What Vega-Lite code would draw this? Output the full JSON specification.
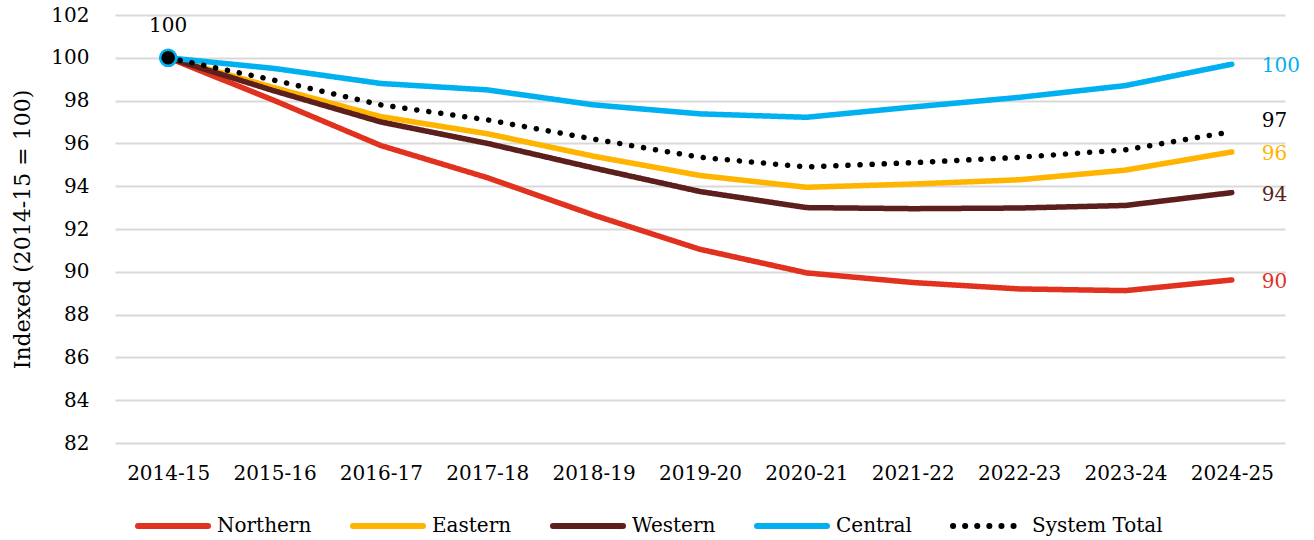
{
  "$schema": "https://vega.github.io/schema/vega-lite/v6.json",
  "width": 1170,
  "height": 428,
  "autosize": "none",
  "padding": {"left": 115, "top": 15, "right": 29, "bottom": 97},
  "background": "white",
  "config": {
    "font": "DejaVu Serif",
    "view": {"stroke": null},
    "axis": {"labelFont": "DejaVu Serif", "titleFont": "DejaVu Serif", "labelColor": "#000", "titleColor": "#000"}
  },
  "data": {
    "values": [
      {"year": "2014-15", "series": "Northern", "value": 100},
      {"year": "2015-16", "series": "Northern", "value": 98.0},
      {"year": "2016-17", "series": "Northern", "value": 95.9},
      {"year": "2017-18", "series": "Northern", "value": 94.4},
      {"year": "2018-19", "series": "Northern", "value": 92.65},
      {"year": "2019-20", "series": "Northern", "value": 91.05},
      {"year": "2020-21", "series": "Northern", "value": 89.95},
      {"year": "2021-22", "series": "Northern", "value": 89.5},
      {"year": "2022-23", "series": "Northern", "value": 89.2},
      {"year": "2023-24", "series": "Northern", "value": 89.12},
      {"year": "2024-25", "series": "Northern", "value": 89.62},
      {"year": "2014-15", "series": "Eastern", "value": 100},
      {"year": "2015-16", "series": "Eastern", "value": 98.6},
      {"year": "2016-17", "series": "Eastern", "value": 97.25},
      {"year": "2017-18", "series": "Eastern", "value": 96.45},
      {"year": "2018-19", "series": "Eastern", "value": 95.4},
      {"year": "2019-20", "series": "Eastern", "value": 94.5},
      {"year": "2020-21", "series": "Eastern", "value": 93.95},
      {"year": "2021-22", "series": "Eastern", "value": 94.1},
      {"year": "2022-23", "series": "Eastern", "value": 94.3},
      {"year": "2023-24", "series": "Eastern", "value": 94.75},
      {"year": "2024-25", "series": "Eastern", "value": 95.6},
      {"year": "2014-15", "series": "Western", "value": 100},
      {"year": "2015-16", "series": "Western", "value": 98.45},
      {"year": "2016-17", "series": "Western", "value": 97.0},
      {"year": "2017-18", "series": "Western", "value": 96.0},
      {"year": "2018-19", "series": "Western", "value": 94.85},
      {"year": "2019-20", "series": "Western", "value": 93.75},
      {"year": "2020-21", "series": "Western", "value": 93.0},
      {"year": "2021-22", "series": "Western", "value": 92.95},
      {"year": "2022-23", "series": "Western", "value": 92.98},
      {"year": "2023-24", "series": "Western", "value": 93.1},
      {"year": "2024-25", "series": "Western", "value": 93.7},
      {"year": "2014-15", "series": "Central", "value": 100},
      {"year": "2015-16", "series": "Central", "value": 99.5},
      {"year": "2016-17", "series": "Central", "value": 98.8},
      {"year": "2017-18", "series": "Central", "value": 98.5},
      {"year": "2018-19", "series": "Central", "value": 97.8},
      {"year": "2019-20", "series": "Central", "value": 97.38},
      {"year": "2020-21", "series": "Central", "value": 97.22},
      {"year": "2021-22", "series": "Central", "value": 97.7},
      {"year": "2022-23", "series": "Central", "value": 98.15},
      {"year": "2023-24", "series": "Central", "value": 98.7},
      {"year": "2024-25", "series": "Central", "value": 99.7},
      {"year": "2014-15", "series": "System Total", "value": 100},
      {"year": "2015-16", "series": "System Total", "value": 98.95},
      {"year": "2016-17", "series": "System Total", "value": 97.8},
      {"year": "2017-18", "series": "System Total", "value": 97.1},
      {"year": "2018-19", "series": "System Total", "value": 96.2},
      {"year": "2019-20", "series": "System Total", "value": 95.35},
      {"year": "2020-21", "series": "System Total", "value": 94.9},
      {"year": "2021-22", "series": "System Total", "value": 95.1},
      {"year": "2022-23", "series": "System Total", "value": 95.35},
      {"year": "2023-24", "series": "System Total", "value": 95.7},
      {"year": "2024-25", "series": "System Total", "value": 96.55}
    ]
  },
  "encoding": {
    "x": {
      "field": "year", "type": "ordinal",
      "scale": {"type": "point", "padding": 0.5},
      "axis": {"title": null, "labelAngle": 0, "labelFontSize": 20, "labelPadding": 20, "ticks": false, "domain": false, "grid": false}
    },
    "y": {
      "field": "value", "type": "quantitative",
      "scale": {"domain": [82, 102], "nice": false, "zero": false},
      "axis": {
        "title": "Indexed (2014-15 = 100)", "titleFontSize": 22, "titleFontWeight": "normal",
        "titleX": -93, "titleY": 214, "titleAngle": -90, "titleAlign": "center", "titleBaseline": "middle",
        "values": [82, 84, 86, 88, 90, 92, 94, 96, 98, 100, 102],
        "labelFontSize": 20, "labelPadding": 26, "ticks": false, "domain": false,
        "gridColor": "#D9D9D9", "gridWidth": 2
      }
    }
  },
  "layer": [
    {
      "mark": {"type": "line", "strokeWidth": 5.5, "strokeCap": "round", "strokeJoin": "round"},
      "encoding": {
        "color": {
          "field": "series", "type": "nominal",
          "scale": {"domain": ["Northern", "Eastern", "Western", "Central", "System Total"], "range": ["#E1311F", "#FFB400", "#5C1F1C", "#00B0F0", "#000000"]},
          "legend": {
            "title": null, "orient": "none", "direction": "horizontal", "columns": 5,
            "legendX": 20, "legendY": 473,
            "symbolType": "stroke", "symbolSize": 4900, "symbolStrokeWidth": 6,
            "labelFont": "DejaVu Serif", "labelFontSize": 20, "labelColor": "#000", "labelOffset": 6,
            "columnPadding": 29, "labelLimit": 300,
            "encode": {"symbols": {"update": {"strokeCap": {"value": "round"}}}}
          }
        },
        "strokeDash": {
          "field": "series", "type": "nominal",
          "scale": {"domain": ["Northern", "Eastern", "Western", "Central", "System Total"], "range": [[1, 0], [1, 0], [1, 0], [1, 0], [0.1, 12]]},
          "legend": null
        },
        "order": {"field": "series"}
      }
    },
    {
      "transform": [{"filter": "datum.year == '2014-15' && datum.series == 'System Total'"}],
      "mark": {"type": "point", "filled": true, "size": 260, "fill": "#000", "stroke": "#00B0F0", "strokeWidth": 2.5, "opacity": 1}
    },
    {
      "transform": [{"filter": "datum.year == '2014-15' && datum.series == 'System Total'"}],
      "mark": {"type": "text", "dy": -32, "fontSize": 20, "color": "#000"},
      "encoding": {"text": {"field": "value", "type": "quantitative", "format": ".0f"}}
    },
    {
      "transform": [{"filter": "datum.year == '2024-25' && datum.series != 'System Total'"}],
      "mark": {"type": "text", "align": "left", "dx": 30, "dy": 2, "fontSize": 20},
      "encoding": {
        "text": {"field": "value", "type": "quantitative", "format": ".0f"},
        "color": {"field": "series", "type": "nominal", "legend": null}
      }
    },
    {
      "transform": [{"filter": "datum.year == '2024-25' && datum.series == 'System Total'"}],
      "mark": {"type": "text", "align": "left", "dx": 30, "dy": -11, "fontSize": 20, "color": "#000"},
      "encoding": {"text": {"field": "value", "type": "quantitative", "format": ".0f"}}
    }
  ]
}
